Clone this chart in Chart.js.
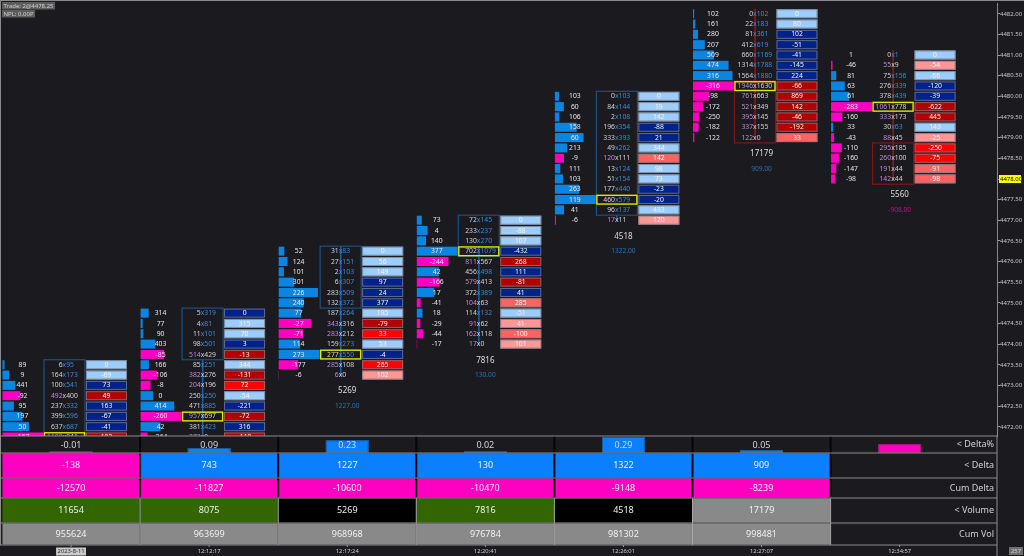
<!DOCTYPE html>
<html>
<head>
<meta charset="utf-8">
<script src="https://cdn.jsdelivr.net/npm/chart.js@4.4.0/dist/chart.umd.min.js"></script>
<style>
  html, body { margin: 0; padding: 0; background: #1b1a1f; }
  #wrap { width: 1024px; height: 556px; }
</style>
</head>
<body>
<div id="wrap"><canvas id="fp" width="1024" height="556"></canvas></div>
<script>
// Barres (une colonne par barre)
const timeLabels = ['2023-8-11', '12:12:17', '12:17:24', '12:20:41', '12:26:01', '12:27:07', '12:34:57'];
const priceTicks = [4472.00, 4472.50, 4473.00, 4473.50, 4474.00, 4474.50, 4475.00, 4475.50, 4476.00, 4476.50,
  4477.00, 4477.50, 4478.00, 4478.50, 4479.00, 4479.50, 4480.00, 4480.50, 4481.00, 4481.50, 4482.00];
const lastPrice = 4478.00;

// prix de la premiere ligne de chaque barre (pas de 0.25)
const topPrice = [4473.50, 4474.75, 4476.25, 4477.00, 4480.00, 4482.00, 4481.00];

const bidVol = [
  [6, 164, 100, 492, 237, 399, 637, 1108],
  [5, 4, 11, 98, 514, 85, 382, 204, 250, 471, 957, 381, 273],
  [31, 27, 2, 6, 283, 132, 187, 343, 283, 159, 277, 285, 6],
  [72, 233, 130, 702, 811, 456, 579, 372, 104, 114, 91, 162, 17],
  [0, 84, 2, 196, 333, 49, 120, 13, 51, 177, 460, 96, 17],
  [0, 22, 81, 412, 660, 1314, 1564, 1946, 761, 521, 395, 337, 122],
  [0, 55, 75, 276, 378, 1061, 333, 30, 88, 295, 260, 191, 142]
];
const askVol = [
  [95, 173, 541, 400, 332, 596, 687, 941],
  [319, 81, 101, 501, 429, 251, 276, 196, 250, 885, 697, 423, 9],
  [83, 151, 103, 307, 509, 372, 264, 316, 212, 273, 550, 108, 0],
  [145, 237, 270, 1079, 567, 498, 413, 389, 63, 132, 62, 118, 0],
  [103, 144, 108, 354, 393, 262, 111, 124, 154, 440, 579, 137, 11],
  [102, 183, 361, 619, 1169, 1788, 1880, 1630, 663, 349, 145, 155, 0],
  [1, 9, 156, 339, 439, 778, 173, 63, 45, 185, 100, 44, 44]
];
const rowDelta = [
  [89, 9, 441, -92, 95, 197, 50, -167],
  [314, 77, 90, 403, -85, 166, -106, -8, 0, 414, -260, 42, -264],
  [52, 124, 101, 301, 226, 240, 77, -27, -71, 114, 273, -177, -6],
  [73, 4, 140, 377, -244, 42, -166, 17, -41, 18, -29, -44, -17],
  [103, 60, 106, 158, 60, 213, -9, 111, 103, 263, 119, 41, -6],
  [102, 161, 280, 207, 509, 474, 316, -316, -98, -172, -250, -182, -122],
  [1, -46, 81, 63, 61, -283, -160, 33, -43, -110, -160, -147, -98]
];
const cellValue = [
  [0, -69, 73, 49, 163, -67, -41, 192],
  [0, 315, 70, 3, -13, 344, -131, 72, -54, -221, -72, 316, -119],
  [0, 56, 149, 97, 24, 377, 185, -79, 33, 53, -4, 265, 102],
  [0, -88, 107, -432, 268, 111, -81, 41, 285, -51, 41, -100, 101],
  [0, 19, 142, -88, 21, 344, 142, 98, 73, -23, -20, 483, 120],
  [0, 80, 102, -51, -41, -145, 224, -66, 869, 142, -46, -192, 33],
  [0, -54, -66, -120, -39, -622, 445, 143, -25, -250, -75, -91, -98]
];
// niveau de la cellule : 2 bleu clair, 1 bleu fonce, -1 rouge fonce, -2 rouge, -3 saumon, -4 rose
const cellTone = [
  [2, 2, 1, -1, 1, 1, 1, -1],
  [1, 2, 2, 1, -1, 2, -1, -2, 2, 1, -1, 1, -1],
  [2, 2, 2, 1, 1, 1, 2, -1, -2, 2, 1, -2, -4],
  [2, 2, 2, 1, -1, 1, -1, 1, -3, 2, -4, -3, -4],
  [2, 2, 2, 1, 1, 2, -3, 2, 2, 1, 1, 2, -4],
  [2, 2, 1, 1, 1, 1, 1, -1, -1, -1, -1, -1, -3],
  [2, -4, 2, 1, 1, -1, -1, 2, -4, -2, -2, -3, -3]
];
const pocPrice = [4471.75, 4472.25, 4473.75, 4476.25, 4477.50, 4480.25, 4479.75];
const vaHigh = [4473.50, 4474.75, 4476.25, 4477.00, 4480.00, 4480.25, 4478.75];
const vaLow = [4471.75, 4473.75, 4475.00, 4476.25, 4477.25, 4479.00, 4478.00];
const openPrice = [null, 4471.75, 4473.25, 4474.00, 4477.00, 4482.00, 4481.00];
const closePrice = [null, 4473.50, 4476.25, 4476.25, 4477.00, 4479.00, 4478.00];

// totaux
const barVolume = [11654, 8075, 5269, 7816, 4518, 17179, 5560];
const barDelta = [-138, 743, 1227, 130, 1322, 909, -908];
const deltaPct = [-0.01, 0.09, 0.23, 0.02, 0.29, 0.05, -0.16];
const cumDelta = [-12570, -11827, -10600, -10470, -9148, -8239, null];
const cumVolume = [955624, 963699, 968968, 976784, 981302, 998481, null];
const volumeTone = [1, 1, 0, 1, 0, 2, null]; // 1 vert, 0 noir, 2 gris
const rowNames = ['< Delta%', '< Delta', 'Cum Delta', '< Volume', 'Cum Vol'];

const TONE = { '2': '#9dcdfc', '1': '#00228a', '-1': '#b30000', '-2': '#ff0000', '-3': '#ff6262', '-4': '#ff9797' };
const VOLTONE = { '1': '#336600', '0': '#000000', '2': '#898989' };
const BLUE = '#0a86e2', PINK = '#ff00c3';
const FONT = '"Noto Sans", sans-serif';

const footprint = {
  id: 'footprint',
  afterDraw(chart) {
    const { ctx, chartArea: a, scales: { x, y } } = chart;
    const bw = x.getPixelForValue(1) - x.getPixelForValue(0);
    const rh = y.getPixelForValue(4472) - y.getPixelForValue(4472.25);

    // cadre haut / gauche
    ctx.save();
    ctx.fillStyle = '#8a8a8a';
    ctx.fillRect(0, 0, 1024, 1);
    ctx.fillRect(0, 0, 1, a.bottom + 109);

    ctx.beginPath();
    ctx.rect(a.left, a.top, a.right - a.left, a.bottom - a.top);
    ctx.clip();
    ctx.textBaseline = 'middle';

    for (let i = 0; i < topPrice.length; i++) {
      const x0 = x.getPixelForValue(i - 0.5);
      const bids = bidVol[i], asks = askVol[i];
      const vols = bids.map((b, k) => b + asks[k]);
      const maxVol = Math.max(...vols);
      const xX = x0 + bw * 0.453;
      const boxL = x0 + bw * 0.304, boxR = x0 + bw * 0.601;
      const cellL = x0 + bw * 0.608, cellR = x0 + bw * 0.905;
      const up = openPrice[i] == null || closePrice[i] >= openPrice[i];
      const lineCol = up ? '#1f5fa6' : '#8e1c1c';

      // corps de la bougie
      if (openPrice[i] != null) {
        const hi = Math.max(openPrice[i], closePrice[i]);
        const lo = Math.min(openPrice[i], closePrice[i]);
        ctx.fillStyle = lineCol;
        const yTop = y.getPixelForValue(hi) - rh / 2;
        const yBot = y.getPixelForValue(lo) + rh * 0.1;
        ctx.fillRect(xX - 0.75, yTop, 1.5, yBot - yTop);
      }

      let lastY = 0;
      for (let r = 0; r < bids.length; r++) {
        const p = topPrice[i] - 0.25 * r;
        const yc = y.getPixelForValue(p);
        const top = yc - rh / 2;
        lastY = yc;
        const d = rowDelta[i][r];

        // profil
        ctx.fillStyle = d >= 0 ? BLUE : PINK;
        ctx.fillRect(x0 + 0.5, top + 0.5, vols[r] / maxVol * bw * 0.297, rh - 1.3);
        ctx.font = '6.8px ' + FONT;
        ctx.textAlign = 'center';
        ctx.fillStyle = '#e6e6e6';
        ctx.fillText(String(d), x0 + bw * 0.148, yc);

        // bid x ask
        const askWins = asks[r] >= bids[r];
        ctx.textAlign = 'right';
        ctx.fillStyle = askWins ? '#d2d2d2' : '#c08ad8';
        ctx.fillText(String(bids[r]), xX - 2, yc);
        ctx.textAlign = 'left';
        ctx.fillStyle = askWins ? '#3b8ad4' : '#d2d2d2';
        ctx.fillText('x' + asks[r], xX - 2, yc);

        // cellule
        ctx.fillStyle = TONE[cellTone[i][r]];
        ctx.fillRect(cellL, top + 0.5, cellR - cellL, rh - 1.3);
        ctx.strokeStyle = 'rgba(120,125,135,0.8)';
        ctx.lineWidth = 1;
        ctx.strokeRect(cellL + 0.5, top + 1, cellR - cellL - 1, rh - 2.3);
        ctx.fillStyle = '#f2f2f2';
        ctx.textAlign = 'center';
        ctx.fillText(String(cellValue[i][r]), (cellL + cellR) / 2, yc);
      }

      // zone de valeur
      ctx.strokeStyle = up ? '#1d4f82' : '#7e1717';
      ctx.lineWidth = 1.2;
      const vaT = y.getPixelForValue(vaHigh[i]) - rh / 2;
      const vaB = y.getPixelForValue(vaLow[i]) + rh / 2;
      ctx.strokeRect(boxL, vaT, boxR - boxL, vaB - vaT);

      // POC
      const yp = y.getPixelForValue(pocPrice[i]);
      ctx.strokeStyle = '#e6e600';
      ctx.lineWidth = 1.4;
      ctx.strokeRect(boxL + 0.5, yp - rh / 2 + 0.8, boxR - boxL - 1, rh - 1.6);

      // totaux sous la barre
      ctx.textAlign = 'center';
      ctx.font = '8px ' + FONT;
      ctx.fillStyle = '#dedede';
      ctx.fillText(String(barVolume[i]), x.getPixelForValue(i), lastY + 16);
      ctx.font = '6.6px ' + FONT;
      ctx.fillStyle = barDelta[i] >= 0 ? '#2f6fb2' : '#a3208e';
      ctx.fillText(barDelta[i].toFixed(2), x.getPixelForValue(i), lastY + 31);
    }
    ctx.restore();

    // tableau du bas
    ctx.save();
    ctx.textBaseline = 'middle';
    ctx.textAlign = 'center';
    const bandH = [17, 25, 20, 25, 22];
    const bandTop = [];
    let yy = a.bottom;
    bandH.forEach(h => { bandTop.push(yy); yy += h; });
    const tableBottom = yy;
    const n = timeLabels.length;
    const colL = i => x.getPixelForValue(i - 0.5);
    const colR = i => (i === n - 1 ? a.right : x.getPixelForValue(i + 0.5));
    const maxPct = Math.max(...deltaPct.map(Math.abs));

    for (let i = 0; i < n; i++) {
      const l = colL(i) + 0.5, w = colR(i) - colL(i) - 1;
      const cx = x.getPixelForValue(i);
      ctx.font = '9px ' + FONT;

      // Delta%
      const v = deltaPct[i];
      const bh = Math.max(1.5, Math.abs(v) / maxPct * (bandH[0] - 1));
      ctx.fillStyle = v >= 0 ? '#0a80ff' : PINK;
      ctx.fillRect(cx - bw * 0.155, bandTop[1] - bh, bw * 0.31, bh);
      ctx.strokeStyle = v >= 0 ? '#1b5a9c' : '#9a1878';
      ctx.lineWidth = 1;
      ctx.strokeRect(cx - bw * 0.155 + 0.5, bandTop[1] - bh + 0.5, bw * 0.31 - 1, bh - 1);
      if (cumVolume[i] != null) {
        ctx.fillStyle = '#d6d6d6';
        ctx.fillText(v.toFixed(2), cx, bandTop[0] + 9);
      }

      // Delta
      if (cumVolume[i] != null) {
        ctx.fillStyle = barDelta[i] >= 0 ? '#0a80ff' : PINK;
        ctx.fillRect(l, bandTop[1] + 0.5, w, bandH[1] - 1);
        ctx.fillStyle = '#f0f0f0';
        ctx.fillText(String(barDelta[i]), cx, bandTop[1] + bandH[1] / 2);
      }
      // Cum Delta
      if (cumDelta[i] != null) {
        ctx.fillStyle = cumDelta[i] >= 0 ? '#0a80ff' : PINK;
        ctx.fillRect(l, bandTop[2] + 0.5, w, bandH[2] - 1);
        ctx.fillStyle = '#f0f0f0';
        ctx.fillText(String(cumDelta[i]), cx, bandTop[2] + bandH[2] / 2);
      }
      // Volume
      if (volumeTone[i] != null) {
        ctx.fillStyle = VOLTONE[volumeTone[i]];
        ctx.fillRect(l, bandTop[3] + 0.5, w, bandH[3] - 1);
        ctx.fillStyle = '#f0f0f0';
        ctx.fillText(String(barVolume[i]), cx, bandTop[3] + bandH[3] / 2);
      }
      // Cum Vol
      if (cumVolume[i] != null) {
        ctx.fillStyle = '#898989';
        ctx.fillRect(l, bandTop[4] + 0.5, w, bandH[4] - 1);
        ctx.fillStyle = '#f0f0f0';
        ctx.fillText(String(cumVolume[i]), cx, bandTop[4] + bandH[4] / 2);
      }
    }

    // separateurs
    for (let i = 0; i < n - 1; i++) {
      const sx = colR(i);
      ctx.fillStyle = '#050505';
      ctx.fillRect(sx - 1, bandTop[0], 2, bandTop[3] - bandTop[0]);
      ctx.fillStyle = '#a8a8a8';
      ctx.fillRect(sx - 0.5, bandTop[3], 1, tableBottom - bandTop[3]);
    }
    ctx.fillStyle = '#8c8c8c';
    bandTop.concat([tableBottom]).forEach(t => ctx.fillRect(0, t - 0.5, a.right, 1));
    ctx.fillRect(a.right - 0.5, a.bottom, 1, tableBottom - a.bottom + 11);

    ctx.textAlign = 'right';
    ctx.font = '9px ' + FONT;
    ctx.fillStyle = '#d2d2d2';
    rowNames.forEach((name, k) => ctx.fillText(name, a.right - 3, bandTop[k] + bandH[k] / 2));

    // axe du temps
    ctx.textAlign = 'center';
    ctx.font = '5.8px ' + FONT;
    timeLabels.forEach((lab, i) => {
      const cx = x.getPixelForValue(i);
      ctx.fillStyle = '#9a9a9a';
      ctx.fillRect(cx - 0.5, tableBottom, 1, 2);
      if (i === 0) {
        const tw = ctx.measureText(lab).width;
        ctx.fillStyle = '#c9c9c9';
        ctx.fillRect(cx - tw / 2 - 1.5, tableBottom + 2.5, tw + 3, 8);
        ctx.fillStyle = '#2a2a2a';
      } else {
        ctx.fillStyle = '#cfcfcf';
      }
      ctx.fillText(lab, cx, tableBottom + 6.5);
    });
    ctx.fillStyle = '#6e6e6e';
    ctx.fillRect(1009, tableBottom + 2, 14, 8);
    ctx.fillStyle = '#d0d0d0';
    ctx.fillText('257', 1016, tableBottom + 6.2);

    // prix courant
    const yl = y.getPixelForValue(lastPrice);
    ctx.fillStyle = '#ffff00';
    ctx.fillRect(a.right + 2, yl - 4, 22, 8);
    ctx.fillStyle = '#000000';
    ctx.textAlign = 'left';
    ctx.font = '6px ' + FONT;
    ctx.fillText(lastPrice.toFixed(2), a.right + 3, yl);

    // infos en haut a gauche
    ctx.font = '6px ' + FONT;
    const t1 = 'Trade: 2@4478.25', t2 = 'NPL: 0.00P';
    ctx.fillStyle = '#5c5c5c';
    ctx.fillRect(2, 2, ctx.measureText(t1).width + 3, 7.5);
    ctx.fillRect(2, 10, ctx.measureText(t2).width + 3, 7.5);
    ctx.fillStyle = '#cfcfcf';
    ctx.fillText(t1, 3.5, 6);
    ctx.fillText(t2, 3.5, 14);
    ctx.restore();
  }
};

const ctx = document.getElementById('fp').getContext('2d');
const chart = new Chart(ctx, {
  type: 'scatter',
  data: { datasets: [] },
  options: {
    responsive: false,
    animation: false,
    devicePixelRatio: 1,
    layout: { padding: { left: 2, top: 2, right: 0, bottom: 120 } },
    plugins: { legend: { display: false }, tooltip: { enabled: false } },
    scales: {
      x: { type: 'linear', min: -0.5, max: 6.705, display: false },
      y: {
        type: 'linear',
        position: 'right',
        min: 4471.778,
        max: 4482.248,
        afterBuildTicks: scale => { scale.ticks = priceTicks.map(v => ({ value: v })); },
        afterFit: scale => { scale.width = 27; },
        ticks: {
          color: '#c8c8c8',
          padding: 0,
          font: { size: 6, family: 'Noto Sans' },
          callback: v => Number(v).toFixed(2)
        },
        grid: { drawOnChartArea: false, color: '#9a9a9a', tickLength: 3 },
        border: { color: '#8a8a8a' }
      }
    }
  },
  plugins: [footprint]
});
</script>
</body>
</html>
